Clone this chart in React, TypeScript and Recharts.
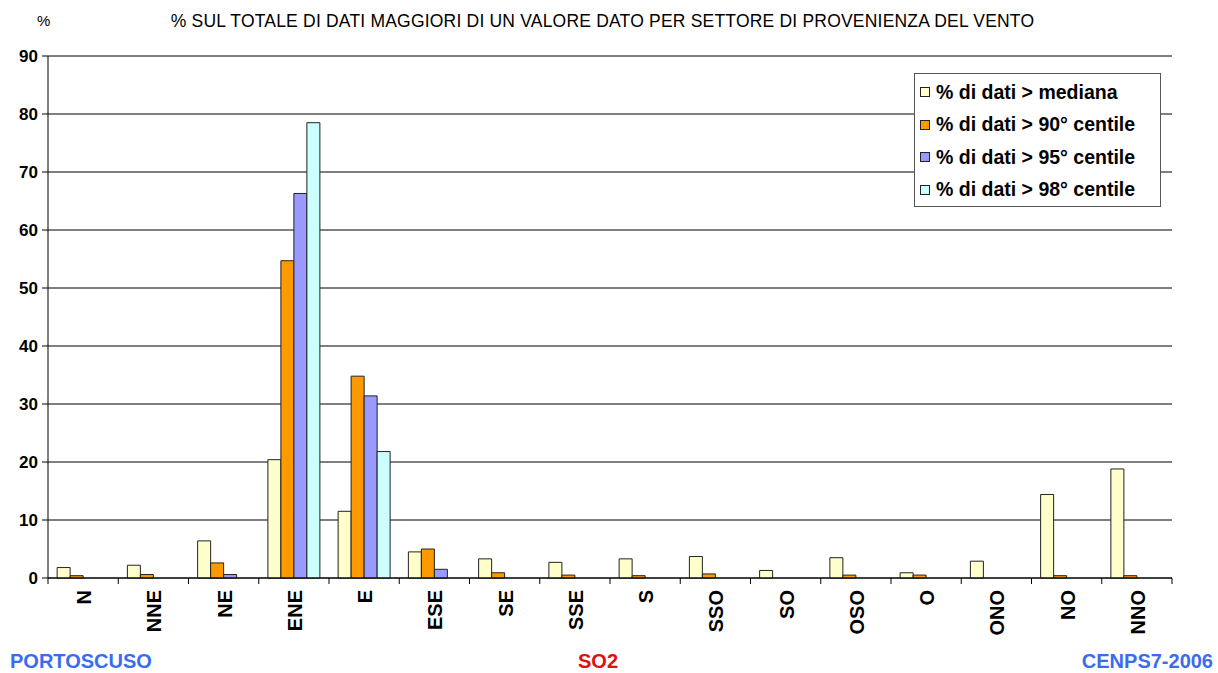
import React from 'react';
import { BarChart, Bar, XAxis, YAxis, CartesianGrid, Legend } from 'recharts';

const sectors = ['N', 'NNE', 'NE', 'ENE', 'E', 'ESE', 'SE', 'SSE', 'S', 'SSO', 'SO', 'OSO', 'O', 'ONO', 'NO', 'NNO'];
const overMedian = [1.8, 2.2, 6.4, 20.4, 11.5, 4.5, 3.3, 2.7, 3.3, 3.7, 1.3, 3.5, 0.9, 2.9, 14.4, 18.8];
const over90 = [0.4, 0.6, 2.6, 54.7, 34.8, 5.0, 0.9, 0.5, 0.4, 0.7, null, 0.5, 0.5, null, 0.4, 0.4];
const over95 = [null, null, 0.6, 66.3, 31.4, 1.5, null, null, null, null, null, null, null, null, null, null];
const over98 = [null, null, null, 78.5, 21.8, null, null, null, null, null, null, null, null, null, null, null];
const yTicks = [0, 10, 20, 30, 40, 50, 60, 70, 80, 90];

const seriesNames = ['% di dati > mediana', '% di dati > 90° centile', '% di dati > 95° centile', '% di dati > 98° centile'];
const seriesColors = ['#FFFFCC', '#FF9900', '#9999FF', '#CCFFFF'];

const data = sectors.map((s, i) => ({
  sector: s,
  a: overMedian[i],
  b: over90[i],
  c: over95[i],
  d: over98[i],
}));

const FONT = 'Arial, "Liberation Sans", Helvetica, sans-serif';

const XTick = (props: any) => {
  const { x, y, payload, index, visibleTicksCount } = props;
  const off = payload && typeof payload.offset === 'number' ? payload.offset : 35.125;
  const axisY = y - 8;
  return (
    <g>
      <line x1={x - off} y1={axisY} x2={x - off} y2={axisY + 6} stroke="#000" strokeWidth={1} />
      {index === (visibleTicksCount ? visibleTicksCount - 1 : sectors.length - 1) ? (
        <line x1={x + off} y1={axisY} x2={x + off} y2={axisY + 6} stroke="#000" strokeWidth={1} />
      ) : null}
      <text
        transform={`translate(${x + 1},${axisY + 12}) rotate(-90)`}
        textAnchor="end"
        dominantBaseline="central"
        fontFamily={FONT}
        fontWeight="bold"
        fontSize={20}
        fill="#000"
      >
        {payload.value}
      </text>
    </g>
  );
};

const renderLegend = () => (
  <div
    style={{
      width: 247,
      height: 134,
      border: '1px solid #555',
      background: '#fff',
      boxSizing: 'border-box',
      padding: '2px 0 0 5px',
      fontFamily: FONT,
      fontWeight: 'bold',
      fontSize: 19.5,
      color: '#000',
    }}
  >
    {seriesNames.map((n, i) => (
      <div key={n} style={{ display: 'flex', alignItems: 'center', height: 32.5 }}>
        <span
          style={{
            display: 'inline-block',
            width: 8,
            height: 8,
            background: seriesColors[i],
            border: '1px solid #222',
            marginRight: 6,
            flexShrink: 0,
          }}
        />
        <span style={{ whiteSpace: 'nowrap' }}>{n}</span>
      </div>
    ))}
  </div>
);

export default function App() {
  return (
    <div style={{ position: 'absolute', left: 0, top: 0, width: 1218, height: 673, background: '#fff', fontFamily: FONT }}>
      <div style={{ position: 'absolute', left: 37, top: 12, fontSize: 15, color: '#000' }}>%</div>
      <div
        style={{
          position: 'absolute',
          left: 0,
          width: 1205,
          top: 11,
          textAlign: 'center',
          fontSize: 17.5,
          letterSpacing: 0.2,
          color: '#000',
          whiteSpace: 'nowrap',
        }}
      >
        % SUL TOTALE DI DATI MAGGIORI DI UN VALORE DATO PER SETTORE DI PROVENIENZA DEL VENTO
      </div>
      <BarChart
        width={1218}
        height={673}
        data={data}
        margin={{ top: 56, right: 46, left: 0, bottom: 0 }}
        barCategoryGap="13%"
        barGap={0}
      >
        <CartesianGrid vertical={false} stroke="#000" strokeWidth={1} yAxisId="left" />
        <XAxis
          dataKey="sector"
          height={95}
          interval={0}
          tickLine={false}
          tick={<XTick />}
          tickSize={6}
          tickMargin={2}
          axisLine={{ stroke: '#000' }}
        />
        <YAxis
          yAxisId="left"
          width={48}
          domain={[0, 90]}
          ticks={yTicks}
          interval={0}
          tickSize={6}
          tickMargin={4}
          axisLine={{ stroke: '#000' }}
          tickLine={{ stroke: '#000' }}
          tick={{ fontFamily: FONT, fontWeight: 'bold', fontSize: 17, fill: '#000' }}
        />
        <YAxis
          yAxisId="right"
          orientation="right"
          width={0}
          domain={[0, 90]}
          ticks={yTicks}
          tick={false}
          tickLine={false}
          axisLine={{ stroke: '#000' }}
        />
        <Legend
          layout="vertical"
          align="center"
          verticalAlign="middle"
          content={renderLegend}
          wrapperStyle={{ position: 'absolute', left: 914, top: 73, width: 247, height: 134 }}
        />
        <Bar yAxisId="left" dataKey="a" name={seriesNames[0]} fill={seriesColors[0]} stroke="#222" strokeWidth={1} isAnimationActive={false} />
        <Bar yAxisId="left" dataKey="b" name={seriesNames[1]} fill={seriesColors[1]} stroke="#222" strokeWidth={1} isAnimationActive={false} />
        <Bar yAxisId="left" dataKey="c" name={seriesNames[2]} fill={seriesColors[2]} stroke="#222" strokeWidth={1} isAnimationActive={false} />
        <Bar yAxisId="left" dataKey="d" name={seriesNames[3]} fill={seriesColors[3]} stroke="#222" strokeWidth={1} isAnimationActive={false} />
      </BarChart>
      <div style={{ position: 'absolute', left: 10, top: 650, fontSize: 20, fontWeight: 'bold', color: '#3B6CF0' }}>PORTOSCUSO</div>
      <div style={{ position: 'absolute', left: 0, width: 1196, top: 650, textAlign: 'center', fontSize: 20, fontWeight: 'bold', color: '#E01010' }}>SO2</div>
      <div style={{ position: 'absolute', right: 5, top: 650, fontSize: 20, fontWeight: 'bold', color: '#3B6CF0' }}>CENPS7-2006</div>
    </div>
  );
}
